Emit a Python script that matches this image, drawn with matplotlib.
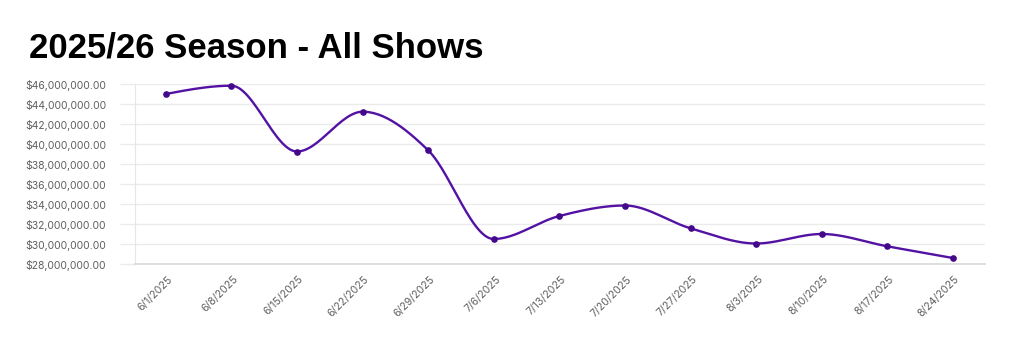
import numpy as np
import matplotlib
matplotlib.use("Agg")
import matplotlib.pyplot as plt
import matplotlib.transforms as mtransforms
from matplotlib.ticker import FuncFormatter, MultipleLocator

dates = ["6/1/2025", "6/8/2025", "6/15/2025", "6/22/2025", "6/29/2025", "7/6/2025",
         "7/13/2025", "7/20/2025", "7/27/2025", "8/3/2025", "8/10/2025", "8/17/2025",
         "8/24/2025"]
revenue = [45.03e6, 45.86e6, 39.28e6, 43.26e6, 39.40e6, 30.53e6, 32.83e6, 33.88e6,
           31.60e6, 30.08e6, 31.03e6, 29.80e6, 28.63e6]
title = "2025/26 Season - All Shows"


def monotone_curve(x, y, n=30):
    x = np.asarray(x, float); y = np.asarray(y, float)
    h = np.diff(x); d = np.diff(y) / h
    m = np.zeros_like(y)
    for i in range(1, len(y) - 1):
        if d[i - 1] * d[i] <= 0:
            m[i] = 0
        else:
            m[i] = (h[i - 1] * d[i - 1] + h[i] * d[i]) / (h[i - 1] + h[i])
            m[i] = np.sign(m[i]) * min(abs(m[i]), 3 * min(abs(d[i - 1]), abs(d[i])))
    m[0] = (3 * d[0] - m[1]) / 2
    m[-1] = (3 * d[-1] - m[-2]) / 2
    xs, ys = [], []
    for i in range(len(x) - 1):
        t = np.linspace(0, 1, n)
        h00 = 2 * t**3 - 3 * t**2 + 1
        h10 = t**3 - 2 * t**2 + t
        h01 = -2 * t**3 + 3 * t**2
        h11 = t**3 - t**2
        xs.append(x[i] + t * h[i])
        ys.append(h00 * y[i] + h10 * h[i] * m[i] + h01 * y[i + 1] + h11 * h[i] * m[i + 1])
    return np.concatenate(xs), np.concatenate(ys)


W, H = 1024, 351
fig = plt.figure(figsize=(W / 100, H / 100), dpi=100)
fig.patch.set_facecolor("white")
ax = fig.add_axes([135 / W, 1 - 264.3 / H, (985 - 135) / W, (264.3 - 84.3) / H])

xi = np.arange(len(dates))
cx, cy = monotone_curve(xi, revenue)
ax.plot(cx, cy, color="#5312a3", lw=1.7, clip_on=False, zorder=3)
ax.plot(xi, revenue, "o", color="#43098a", ms=3.8, clip_on=False, zorder=4)

ax.set_xlim(-0.47, 12.49)
ax.set_ylim(28e6, 46e6)
ax.yaxis.set_major_locator(MultipleLocator(2e6))
ax.yaxis.set_major_formatter(FuncFormatter(lambda v, p: f"${v:,.2f}"))
ax.set_xticks(xi)
ax.set_xticklabels(dates)

ax.grid(axis="y", color="#ebebeb", lw=1)
ax.set_axisbelow(True)
for s in ["top", "right"]:
    ax.spines[s].set_visible(False)
ax.spines["left"].set_color("#e6e6e6")
ax.spines["bottom"].set_color("#d9d9d9")
ax.spines["bottom"].set_linewidth(1.2)

ax.tick_params(axis="y", length=10.8, color="#ebebeb", width=1, pad=10,
               labelsize=7.5, labelcolor="#5f5f5f")
ax.tick_params(axis="x", length=0, pad=11, labelsize=7.6, labelcolor="#5f5f5f")
off = mtransforms.ScaledTranslation(5 / 100, 2 / 100, fig.dpi_scale_trans)
for lab in ax.get_yticklabels():
    lab.set_fontfamily("Inter")
for lab in ax.get_xticklabels():
    lab.set_fontfamily("Inter")
    lab.set_rotation(45)
    lab.set_ha("right")
    lab.set_va("center")
    lab.set_rotation_mode("anchor")
    lab.set_transform(lab.get_transform() + off)

fig.text(29 / W, 1 - 58 / H, title, fontsize=25, fontweight="bold",
         family="Liberation Sans", color="black", ha="left", va="baseline")

fig.savefig("out.png", dpi=100, facecolor="white")
